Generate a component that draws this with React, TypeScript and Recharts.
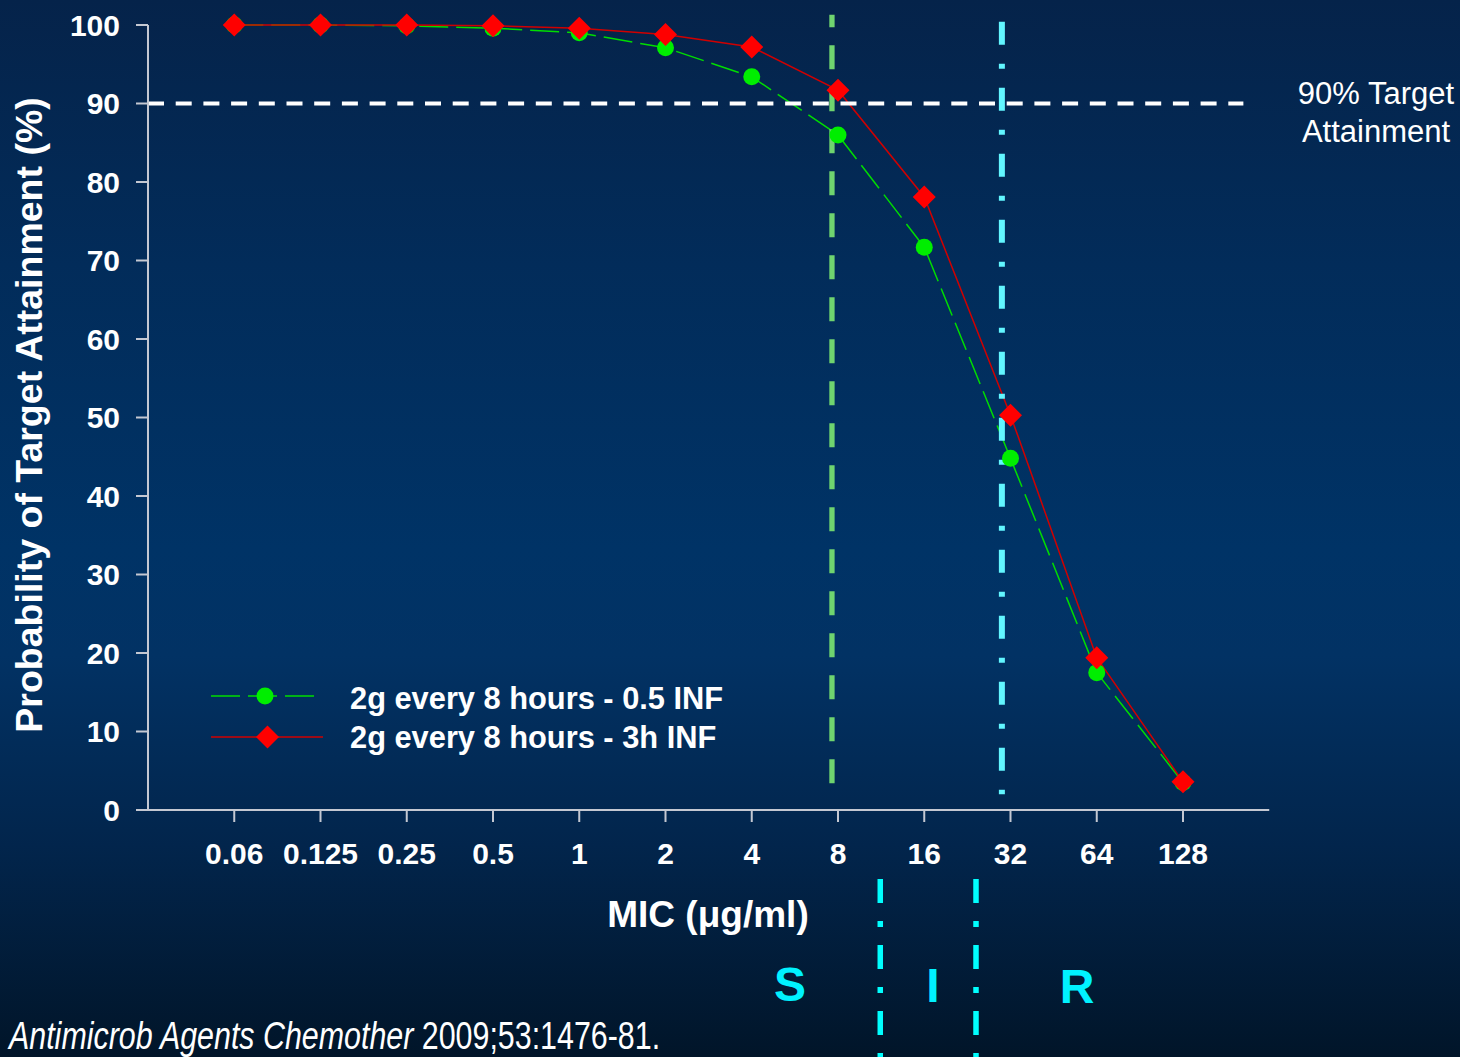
import React from 'react';
import { LineChart, Line, XAxis, YAxis, ReferenceLine } from 'recharts';

// MIC categories (µg/ml) and probability of target attainment (%)
const micLabels = ['0.06', '0.125', '0.25', '0.5', '1', '2', '4', '8', '16', '32', '64', '128'];
const shortInfusion = [100, 100, 99.9, 99.6, 99.0, 97.1, 93.4, 86.0, 71.7, 44.8, 17.5, 3.5];
const extendedInfusion = [100, 100, 100, 99.9, 99.6, 98.8, 97.2, 91.7, 78.1, 50.3, 19.4, 3.6];
const yTicks = [0, 10, 20, 30, 40, 50, 60, 70, 80, 90, 100];
const seriesNames = ['2g every 8 hours - 0.5 INF', '2g every 8 hours - 3h INF'];

const targetLevel = 90;
// breakpoint markers, in category-index units
const susceptibleLine = 6.93;
const resistantLine = 8.9;
const lowerBreaks = [7.49, 8.6];

const data = micLabels.map((mic, i) => ({
  idx: i,
  mic,
  short: shortInfusion[i],
  extended: extendedInfusion[i],
}));

const W = 1460;
const H = 1057;
const PLOT_LEFT = 148;
const PLOT_TOP = 25;
const PLOT_BOTTOM = 810;
const STEP = 86.25;
const xPx = (i: number) => PLOT_LEFT + (i + 1) * STEP;

const FONT = '"Liberation Sans", Arial, sans-serif';
const GREEN = '#00ee00';
const RED = '#ff0000';

const GreenDot = (props: any) => {
  const { cx, cy, index } = props;
  return <circle key={`g${index}`} cx={cx} cy={cy} r={8.5} fill={GREEN} />;
};

const RedDot = (props: any) => {
  const { cx, cy, index } = props;
  const s = 11.5;
  return (
    <polygon
      key={`r${index}`}
      points={`${cx},${cy - s} ${cx + s},${cy} ${cx},${cy + s} ${cx - s},${cy}`}
      fill={RED}
    />
  );
};

function Overlay() {
  return (
    <svg
      width={W}
      height={H}
      style={{ position: 'absolute', left: 0, top: 0, pointerEvents: 'none' }}
      fontFamily={FONT}
    >
      {/* y axis title */}
      <text
        x={42}
        y={415}
        transform="rotate(-90, 42, 415)"
        textAnchor="middle"
        fill="#fff"
        fontSize={37.5}
        fontWeight={700}
      >
        Probability of Target Attainment (%)
      </text>

      {/* x axis title */}
      <text x={708} y={927} textAnchor="middle" fill="#fff" fontSize={37} fontWeight={700}>
        MIC (μg/ml)
      </text>

      {/* target label */}
      <text x={1376} y={104} textAnchor="middle" fill="#fff" fontSize={31}>
        90% Target
      </text>
      <text x={1376} y={142} textAnchor="middle" fill="#fff" fontSize={31}>
        Attainment
      </text>

      {/* legend */}
      <line x1={211} x2={316} y1={696} y2={696} stroke="#00dd00" strokeWidth={1.5} strokeDasharray="29 8" />
      <circle cx={265} cy={696} r={8.5} fill={GREEN} />
      <text x={350} y={709} fill="#fff" fontSize={30.8} fontWeight={700}>
        {seriesNames[0]}
      </text>
      <line x1={211} x2={323} y1={737} y2={737} stroke="#d00000" strokeWidth={1.5} />
      <polygon points="267.5,725.5 279,737 267.5,748.5 256,737" fill={RED} />
      <text x={350} y={748} fill="#fff" fontSize={30.8} fontWeight={700}>
        {seriesNames[1]}
      </text>

      {/* breakpoint zones below the axis */}
      {lowerBreaks.map((b) => (
        <line
          key={b}
          x1={xPx(b)}
          x2={xPx(b)}
          y1={879}
          y2={H}
          stroke="#00ffff"
          strokeWidth={5.5}
          strokeDasharray="24 18 6 18"
        />
      ))}
      <text x={790} y={1001} textAnchor="middle" fill="#00f2ff" fontSize={48} fontWeight={700}>
        S
      </text>
      <text x={933} y={1002} textAnchor="middle" fill="#00f2ff" fontSize={48} fontWeight={700}>
        I
      </text>
      <text x={1077} y={1003} textAnchor="middle" fill="#00f2ff" fontSize={48} fontWeight={700}>
        R
      </text>

      {/* citation, in a narrow face */}
      <g transform="translate(9, 1049) scale(0.8, 1)">
        <text x={0} y={0} fill="#fff" fontSize={38}>
          <tspan fontStyle="italic">Antimicrob Agents Chemother</tspan> 2009;53:1476-81.
        </text>
      </g>
    </svg>
  );
}

export default function App() {
  const tickStyle = { fill: '#fff', fontSize: 30, fontWeight: 700, fontFamily: FONT };
  return (
    <div
      style={{
        position: 'absolute',
        left: 0,
        top: 0,
        width: W,
        height: H,
        overflow: 'hidden',
        background:
          'linear-gradient(180deg, #05234a 0%, #022c5a 25%, #003366 52%, #023264 62%, #02254c 80%, #011529 100%)',
      }}
    >
      <LineChart
        width={W}
        height={H}
        data={data}
        margin={{ top: PLOT_TOP, right: W - PLOT_LEFT - 13 * STEP, left: 0, bottom: 0 }}
      >
        <XAxis
          dataKey="idx"
          type="number"
          domain={[-1, 12]}
          ticks={data.map((d) => d.idx)}
          tickFormatter={(i: number) => micLabels[i]}
          interval={0}
          height={H - PLOT_BOTTOM}
          stroke="#c4c8d2"
          strokeWidth={2}
          tickSize={12}
          tickMargin={21}
          tick={tickStyle}
        />
        <YAxis
          type="number"
          domain={[0, 100]}
          ticks={yTicks}
          interval={0}
          width={PLOT_LEFT}
          stroke="#c4c8d2"
          strokeWidth={2}
          tickSize={12}
          tickMargin={16}
          tick={tickStyle}
        />
        <Line
          dataKey="short"
          name={seriesNames[0]}
          type="linear"
          stroke="#00dd00"
          strokeWidth={1.5}
          strokeDasharray="29 8"
          dot={GreenDot}
          activeDot={false}
          isAnimationActive={false}
        />
        <Line
          dataKey="extended"
          name={seriesNames[1]}
          type="linear"
          stroke="#d00000"
          strokeWidth={1.5}
          dot={RedDot}
          activeDot={false}
          isAnimationActive={false}
        />
        <ReferenceLine
          segment={[
            { x: -1, y: targetLevel },
            { x: 11.7, y: targetLevel },
          ]}
          stroke="#fff"
          strokeWidth={4}
          strokeDasharray="16 11.7"
          ifOverflow="visible"
        />
        <ReferenceLine
          segment={[
            { x: susceptibleLine, y: 3.4 },
            { x: susceptibleLine, y: 101.3 },
          ]}
          stroke="#6fd46f"
          strokeWidth={5.3}
          strokeDasharray="24 18"
          ifOverflow="visible"
        />
        <ReferenceLine
          segment={[
            { x: resistantLine, y: 100.4 },
            { x: resistantLine, y: 2.0 },
          ]}
          stroke="#62f6ff"
          strokeWidth={6}
          strokeDasharray="23 19 5 19"
          ifOverflow="visible"
        />
      </LineChart>
      <Overlay />
    </div>
  );
}
